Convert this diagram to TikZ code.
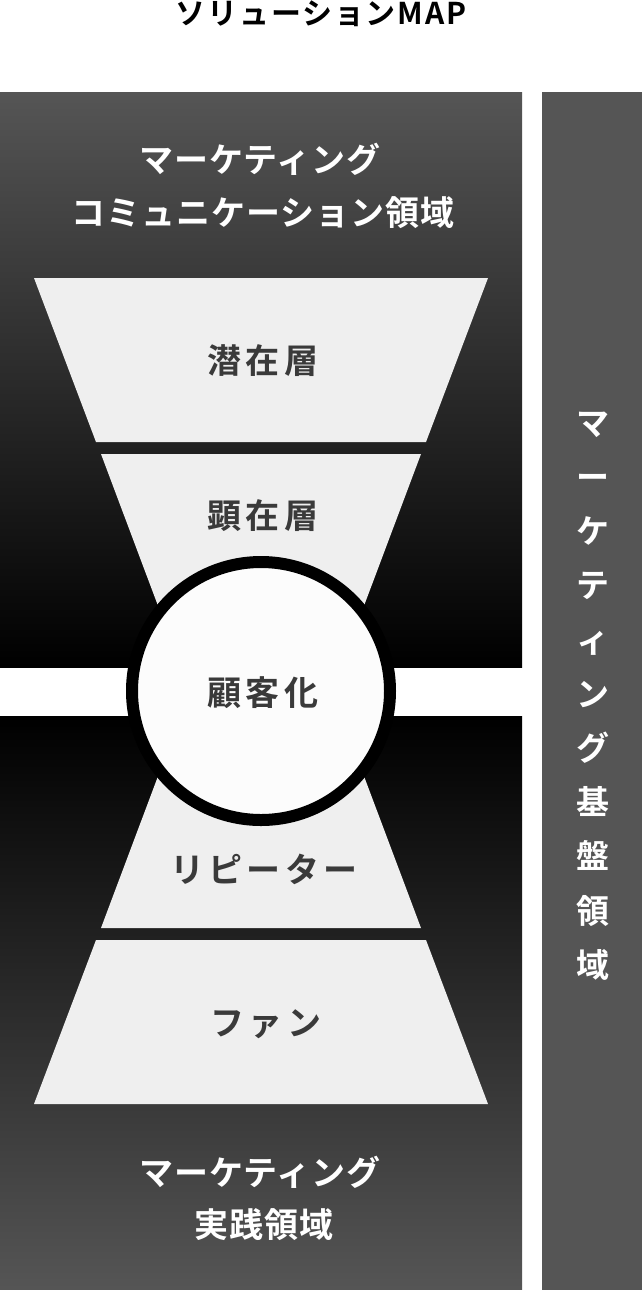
\documentclass[tikz,border=0pt]{standalone}
\usepackage{fontspec}
\newfontfamily\titlefont[LetterSpace=6]{Noto Sans CJK JP Bold}
\newfontfamily\headfont[LetterSpace=3]{Noto Sans CJK JP Bold}
\newfontfamily\layerfont[LetterSpace=12]{Noto Sans CJK JP Bold}
\newfontfamily\vertfont{Noto Sans CJK JP Bold}
\definecolor{panelgray}{RGB}{85,85,85}
\definecolor{layerfill}{RGB}{239,239,239}
\definecolor{layertext}{RGB}{58,58,58}
\definecolor{corefill}{RGB}{252,252,252}
\tikzset{
  layer/.style={fill=layerfill},
  titletext/.style={inner sep=0pt, text=black, font={\titlefont\fontsize{30}{36}\selectfont}},
  headtext/.style={inner sep=0pt, text=white, font={\headfont\fontsize{34}{40}\selectfont}},
  layertxt/.style={inner sep=0pt, text=layertext, font={\layerfont\fontsize{34}{40}\selectfont}},
  verttext/.style={inner sep=0pt, text=white, align=center, font={\vertfont\fontsize{33}{54.2}\selectfont}},
}
\begin{document}
\begin{tikzpicture}[x=1pt,y=-1pt]
\useasboundingbox (0,0) rectangle (642,1291);
\fill[white] (0,0) rectangle (642,1291);
% left panel
\shade[top color=panelgray, bottom color=black] (0,92) rectangle (522,667);
\shade[top color=black, bottom color=panelgray] (0,716) rectangle (522,1289);
% right panel
\shade[top color=panelgray, middle color=black, bottom color=panelgray] (542,92) rectangle (642,1289);
% funnel layers
\fill[layer] (34,278) -- (488,278) -- (426,442) -- (96,442) -- cycle;
\fill[layer] (101,454) -- (421,454) -- (332,691) -- (421,928) -- (101,928) -- (190,691) -- cycle;
\fill[layer] (96,940) -- (426,940) -- (488,1104) -- (34,1104) -- cycle;
% core circle
\draw[line width=12pt, fill=corefill] (261,691) circle[radius=129];
% texts
\node[titletext] (title) at (321,14) {ソリューションMAP};
\node[headtext] (comm1) at (260,159) {マーケティング};
\node[headtext] (comm2) at (263,213) {コミュニケーション領域};
\node[layertxt] (l1) at (263,361) {潜在層};
\node[layertxt] (l2) at (263,516) {顕在層};
\node[layertxt] (l3) at (263,693) {顧客化};
\node[layertxt] (l4) at (264,869) {リピーター};
\node[layertxt] (l5) at (266,1024) {ファン};
\node[headtext] (prac1) at (260,1172) {マーケティング};
\node[headtext] (prac2) at (264,1225) {実践領域};
\node[verttext] (base) at (593,696) {マ\\ー\\ケ\\テ\\ィ\\ン\\グ\\基\\盤\\領\\域};
\end{tikzpicture}
\end{document}
